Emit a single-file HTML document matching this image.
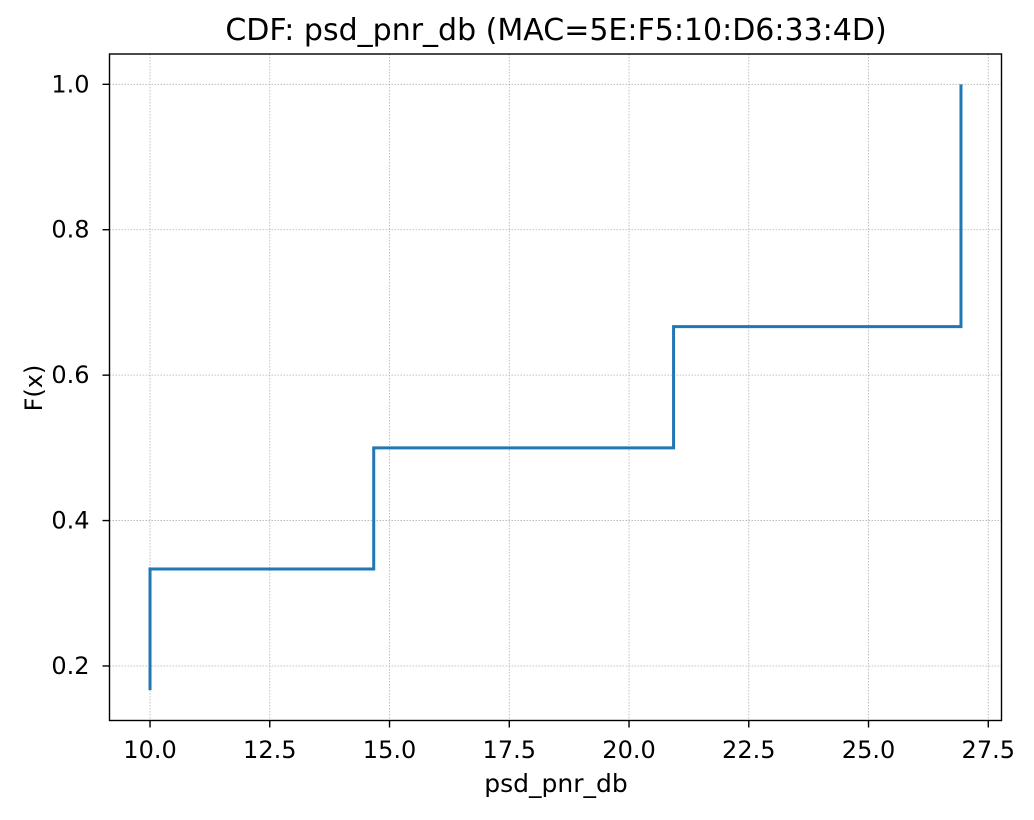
<!DOCTYPE html>
<html><head><meta charset="utf-8"><style>
body{margin:0;background:#fff;}
svg text{font-family:"DejaVu Sans","Liberation Sans",sans-serif;fill:#000;}
</style></head><body>
<svg id="chart" width="1034" height="815" xmlns="http://www.w3.org/2000/svg">
<rect width="1034" height="815" fill="#fff"/>
<g id="grid"></g>
<g id="series"></g>
<rect x="109.5" y="54" width="892" height="666.5" fill="none" stroke="#000" stroke-width="1.4"/>
<g id="ticks"></g>
<text x="556" y="40" text-anchor="middle" font-size="30">CDF: psd_pnr_db (MAC=5E:F5:10:D6:33:4D)</text>
<text x="556" y="792" text-anchor="middle" font-size="25">psd_pnr_db</text>
<text x="42" y="388" text-anchor="middle" font-size="24" transform="rotate(-90 42 388)">F(x)</text>
</svg>
<script>
const xValues=[10.0,14.67,20.93,26.93];
const yValues=[0.1667,0.3333,0.5,0.6667,1.0];
const xTicks=[10.0,12.5,15.0,17.5,20.0,22.5,25.0,27.5];
const yTicks=[0.2,0.4,0.6,0.8,1.0];
const NS="http://www.w3.org/2000/svg";
const L=109.5,R=1001.5,T=54,B=720.5;
const xmin=9.154,xmax=27.776,ymin=0.125,ymax=1.0417;
const sx=v=>L+(v-xmin)/(xmax-xmin)*(R-L);
const sy=v=>B-(v-ymin)/(ymax-ymin)*(B-T);
function mk(tag,attrs,parent){const e=document.createElementNS(NS,tag);for(const k in attrs)e.setAttribute(k,attrs[k]);document.getElementById(parent).appendChild(e);return e;}
xTicks.forEach(t=>{const x=sx(t);
const g=mk('line',{x1:x,x2:x,y1:T,y2:B,stroke:'#b0b0b0','stroke-width':0.8,'stroke-dasharray':'1.5,1.5'},'grid');


const tk=mk('line',{x1:x,x2:x,y1:B,y2:B+7,stroke:'#000','stroke-width':1.4},'ticks');


const tx=mk('text',{x:x,y:758,'text-anchor':'middle','font-size':24},'ticks');tx.textContent=t.toFixed(1);


});
yTicks.forEach(t=>{const y=sy(t);
const g=mk('line',{x1:L,x2:R,y1:y,y2:y,stroke:'#b0b0b0','stroke-width':0.8,'stroke-dasharray':'1.5,1.5'},'grid');


const tk=mk('line',{x1:L-7,x2:L,y1:y,y2:y,stroke:'#000','stroke-width':1.4},'ticks');


const tx=mk('text',{x:L-20,y:y+8,'text-anchor':'end','font-size':24},'ticks');tx.textContent=t.toFixed(1);


});
let pts=[[xValues[0],yValues[0]]];
for(let i=0;i<xValues.length;i++){
  pts.push([xValues[i],yValues[i+1]]);
  if(i+1<xValues.length) pts.push([xValues[i+1],yValues[i+1]]);
}
const p=mk('polyline',{points:pts.map(q=>sx(q[0])+','+sy(q[1])).join(' '),fill:'none',stroke:'#1f77b4','stroke-width':3,'stroke-linejoin':'miter'},'series');


</script>
</body></html>
